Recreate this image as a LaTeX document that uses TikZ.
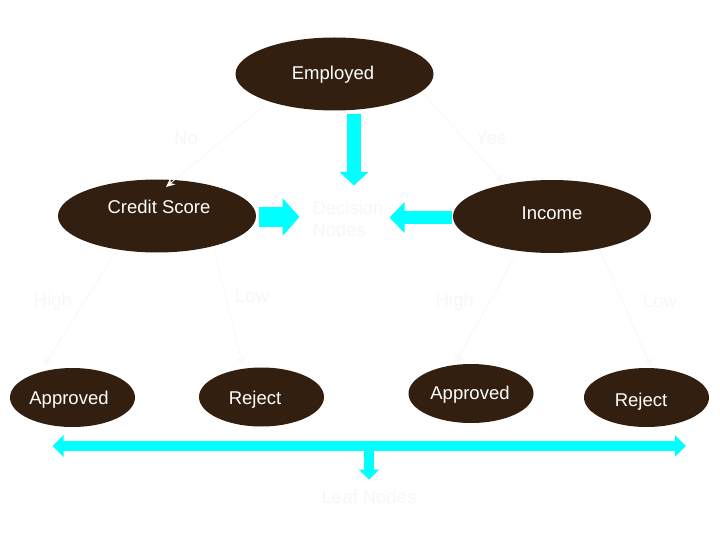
\documentclass[tikz,border=0pt]{standalone}
\usepackage{fontspec}
\setmainfont{Liberation Sans}
\usetikzlibrary{shapes.geometric,arrows.meta}
\definecolor{nodebrown}{RGB}{50,31,15}
\definecolor{faint}{RGB}{247,247,247}
\definecolor{aqua}{RGB}{0,255,255}
\begin{document}
\begin{tikzpicture}[x=1pt,y=-1pt,
  bigoval/.style={ellipse, fill=nodebrown, draw=none, inner sep=0pt, minimum width=198pt, minimum height=73pt},
  leafoval/.style={ellipse, fill=nodebrown, draw=none, inner sep=0pt, minimum width=125pt, minimum height=59pt},
  ovaltext/.style={text=white, inner sep=0pt, text height=13pt, text depth=0pt, font=\fontsize{18.5}{22}\selectfont},
  ghost/.style={text=faint, inner sep=0pt, font=\fontsize{18.5}{22}\selectfont},
  branch/.style={draw=faint, line width=0.8pt, -{Stealth[length=9pt,width=8pt,fill=white]}},
  blockarrow/.style={draw=aqua, line width=#1},
]
\useasboundingbox (0,0) rectangle (720,540);
\fill[white] (0,0) rectangle (720,540);

% ovals
\node[bigoval] (emp) at (334.5,74) {};
\node[bigoval] (cs) at (157,216) {};
\node[bigoval] (inc) at (552,216.5) {};
\node[leafoval] (a1) at (72.5,397.5) {};
\node[leafoval] (r1) at (261.5,397) {};
\node[leafoval] (a2) at (471,393.5) {};
\node[leafoval] (r2) at (646.5,397.5) {};

% oval texts
\node[ovaltext] (empt) at (333,73) {Employed};
\node[ovaltext] (cst) at (159,207.5) {Credit Score};
\node[ovaltext] (inct) at (552,213) {Income};
\node[ovaltext] (a1t) at (69,398) {Approved};
\node[ovaltext] (r1t) at (255,397.5) {Reject};
\node[ovaltext] (a2t) at (470,393) {Approved};
\node[ovaltext] (r2t) at (641,399.5) {Reject};

% faint texts
\node[ghost, align=left] (dec) at (348,219) {Decision\\Nodes};
\node[ghost] (leaves) at (369,497) {Leaf Nodes};

% branch end points
\coordinate (e1) at (265,105);
\coordinate (c1) at (166,187);
\coordinate (e2) at (423,93);
\coordinate (i1) at (503,182);
\coordinate (cs1) at (115,253);
\coordinate (a1top) at (44,366);
\coordinate (cs2) at (214,250);
\coordinate (r1top) at (243,366);
\coordinate (in1) at (517,253);
\coordinate (a2top) at (455,363);
\coordinate (in2) at (600,250);
\coordinate (r2top) at (651,367);

\draw[branch] (e1) -- (c1);
\draw[branch] (e2) -- (i1);
\draw[branch] (cs1) -- (a1top);
\draw[branch] (cs2) -- (r1top);
\draw[branch] (in1) -- (a2top);
\draw[branch] (in2) -- (r2top);

% branch labels
\node[ghost] (lno) at (186,138) {No};
\node[ghost] (lyes) at (491,138) {Yes};
\node[ghost] (lh1) at (53,302) {High};
\node[ghost] (ll1) at (252,296) {Low};
\node[ghost] (lh2) at (455,302) {High};
\node[ghost] (ll2) at (660,301) {Low};

% cyan block arrows
\coordinate (d0) at (354,114);
\coordinate (d1) at (354,185.5);
\coordinate (rr0) at (259,217);
\coordinate (rr1) at (299.5,217);
\coordinate (ll0) at (452,217.5);
\coordinate (ll1x) at (389.5,217.5);
\coordinate (h0) at (52.5,446);
\coordinate (h1) at (686,446);
\coordinate (s0) at (369,446);
\coordinate (s1) at (369,479.5);

\draw[blockarrow=14pt, -{Triangle[length=13.5pt 0 0, width=28pt 0 0]}] (d0) -- (d1);
\draw[blockarrow=20pt, -{Triangle[length=17pt 0 0, width=37pt 0 0]}] (rr0) -- (rr1);
\draw[blockarrow=13pt, -{Triangle[length=15pt 0 0, width=30pt 0 0]}] (ll0) -- (ll1x);
\draw[blockarrow=10pt, -{Triangle[length=10pt 0 0, width=20pt 0 0]}] (s0) -- (s1);
\draw[blockarrow=10pt, {Triangle[length=11pt 0 0, width=21pt 0 0]}-{Triangle[length=11pt 0 0, width=21pt 0 0]}] (h0) -- (h1);
\end{tikzpicture}
\end{document}
